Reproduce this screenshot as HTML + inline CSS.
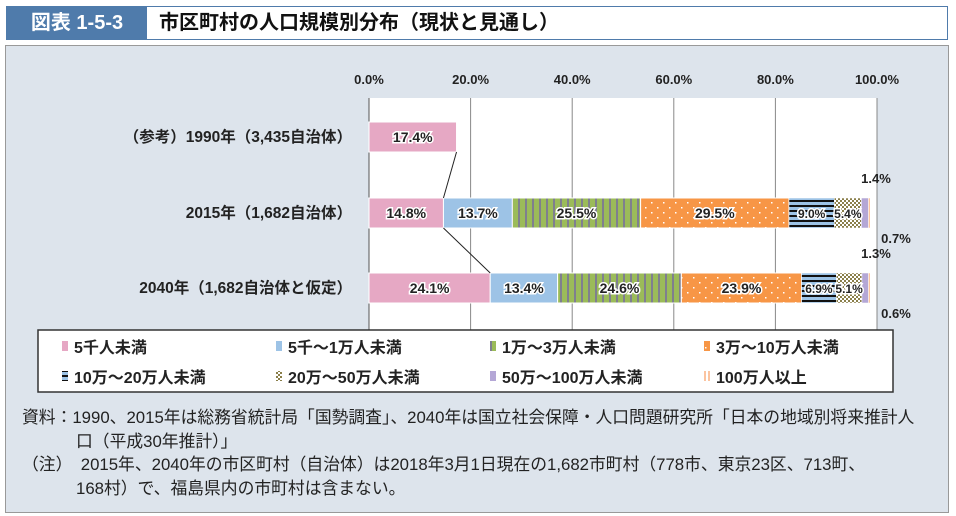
<!DOCTYPE html>
<html><head><meta charset="utf-8">
<style>
body{margin:0;width:956px;height:516px;background:#fff;font-family:"Liberation Sans","Noto Sans CJK JP",sans-serif;overflow:hidden;position:relative}
.hdr{position:absolute;left:6px;top:6px;width:940px;height:32px;border:1px solid #4f7bab;background:#fff}
.tag{position:absolute;left:0;top:0;width:140px;height:32px;background:#4f7bab;color:#fff;font-size:20px;font-weight:bold;line-height:32px;text-align:center}
.ttl{position:absolute;left:152px;top:0;line-height:32px;font-size:20px;font-weight:bold;color:#111}
.panel{position:absolute;left:5px;top:45px;width:942px;height:466px;background:#dde4ec;border:1px solid #999}
.notes{position:absolute;left:22px;top:406px;font-size:16.8px;color:#222;line-height:23.5px;white-space:nowrap}
</style></head><body>
<div class="hdr"><div class="tag">図表 1-5-3</div><div class="ttl">市区町村の人口規模別分布（現状と見通し）</div></div>
<div class="panel"></div>
<svg id="c" width="956" height="516" style="position:absolute;left:0;top:0">
<defs>
<pattern id="p2" width="7" height="10" patternUnits="userSpaceOnUse"><rect width="7" height="10" fill="#9bbb59"/><rect width="2" height="10" fill="#7f7f8f"/></pattern>
<pattern id="p3" width="12" height="10" patternUnits="userSpaceOnUse"><rect width="12" height="10" fill="#f79646"/><rect x="3" y="2" width="1.5" height="1.5" fill="#fff"/><rect x="9" y="7" width="1.5" height="1.5" fill="#fff"/></pattern>
<pattern id="p4" width="6" height="5" patternUnits="userSpaceOnUse"><rect width="6" height="5" fill="#9dc3e6"/><rect width="6" height="2" fill="#111"/></pattern>
<pattern id="p5" width="4" height="4" patternUnits="userSpaceOnUse"><rect width="4" height="4" fill="#fff"/><rect width="2" height="2" fill="#8a7f4a"/><rect x="2" y="2" width="2" height="2" fill="#8a7f4a"/></pattern>
<pattern id="p7" width="4" height="10" patternUnits="userSpaceOnUse"><rect width="4" height="10" fill="#fff"/><rect width="2" height="10" fill="#fbc4a0"/></pattern>
</defs>
<rect x="369" y="98" width="508" height="232" fill="#fff"/>
<g id="grid"></g><g id="bars"></g><g id="lbl"></g>
<rect x="38" y="330" width="855" height="62" fill="#fff" stroke="#333" stroke-width="1.5"/>
<g id="leg"></g>
</svg>
<div class="notes">資料：1990、2015年は総務省統計局「国勢調査」、2040年は国立社会保障・人口問題研究所「日本の地域別将来推計人<br><span style="padding-left:54px">口（平成30年推計）」</span><br>（注）　2015年、2040年の市区町村（自治体）は2018年3月1日現在の1,682市町村（778市、東京23区、713町、<br><span style="padding-left:54px">168村）で、福島県内の市町村は含まない。</span></div>
<script>
const rows=["（参考）1990年（3,435自治体）","2015年（1,682自治体）","2040年（1,682自治体と仮定）"];
const series=["5千人未満","5千～1万人未満","1万～3万人未満","3万～10万人未満","10万～20万人未満","20万～50万人未満","50万～100万人未満","100万人以上"];
const v1990=[17.4];
const v2015=[14.8,13.7,25.5,29.5,9.0,5.4,1.4,0.7];
const v2040=[24.1,13.4,24.6,23.9,6.9,5.1,1.3,0.6];
const ticks=[0,20,40,60,80,100];
const fills=["#e6a8c4","#9dc3e6","url(#p2)","url(#p3)","url(#p4)","url(#p5)","#b4a7d6","url(#p7)"];
const NS="http://www.w3.org/2000/svg";
const X0=369,W=503,rowY=[122,198,273],BH=30;
const xs=v=>X0+v/100*W;
const xt=v=>X0+v/100*508;
function mk(t,a,p){const e=document.createElementNS(NS,t);for(const k in a)e.setAttribute(k,a[k]);p.appendChild(e);return e;}
const G=document.getElementById('grid'),B=document.getElementById('bars'),L=document.getElementById('lbl'),LG=document.getElementById('leg');
ticks.forEach(t=>{const l=mk('line',{x1:xt(t),x2:xt(t),y1:98,y2:330,stroke:t==0?'#555':'#888','stroke-width':1},G);


const tx=mk('text',{x:xt(t),y:84,'text-anchor':'middle','font-size':13,'font-weight':'bold',fill:'#222'},G);tx.textContent=t.toFixed(1)+'%';

});
const data=[v1990,v2015,v2040];
const ends=[];
data.forEach((vals,r)=>{let c=0;const y=rowY[r];ends.push([]);
const rl=mk('text',{x:352,y:y+BH/2+5,'text-anchor':'end','font-size':15.5,'font-weight':'bold',fill:'#222'},L);rl.textContent=rows[r];


vals.forEach((v,i)=>{const x=xs(c),w=xs(c+v)-xs(c);
const rc=mk('rect',{x:x,y:y,width:w,height:BH,fill:fills[i],stroke:'#fff','stroke-width':i<4?1:0.5},B);


ends[r].push(xs(c+v));
if(i<6){const t=mk('text',{x:x+w/2,y:y+BH/2+5,'text-anchor':'middle','font-size':i>=4?12:14,'font-weight':'bold',fill:'#222',stroke:'#fff','stroke-width':3,'paint-order':'stroke'},L);t.textContent=v.toFixed(1)+'%';

}
c+=v;});
if(r>0){[6,7].forEach((i,k)=>{const t=mk('text',{x:k?896:876,y:k?y+BH+15:y-15,'text-anchor':'middle','font-size':13,'font-weight':'bold',fill:'#222'},L);t.textContent=vals[i].toFixed(1)+'%';

});}
});
[[0,1],[1,2]].forEach(([a,b])=>{const ln=mk('line',{x1:ends[a][0],y1:rowY[a]+BH,x2:ends[b][0],y2:rowY[b],stroke:'#222','stroke-width':1},L);

});
series.forEach((s,i)=>{const col=i%4,row=Math.floor(i/4);const x=62+col*214,y=347+row*30;
const r=mk('rect',{x:x,y:y-6,width:6,height:10,fill:fills[i]},LG);


const t=mk('text',{x:x+12,y:y+6,'font-size':16,'font-weight':'bold',fill:'#222'},LG);t.textContent=s;

});
</script>
</body></html>
